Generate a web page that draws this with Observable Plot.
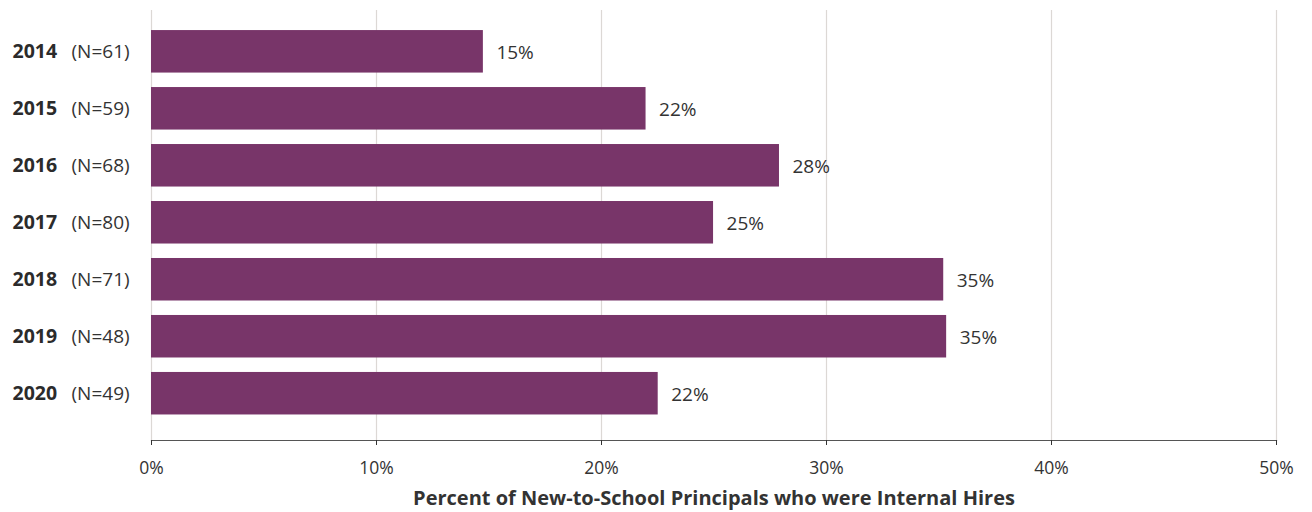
<!DOCTYPE html>
<html>
<head>
<meta charset="utf-8">
<script src="https://cdn.jsdelivr.net/npm/d3@7"></script>
<script src="https://cdn.jsdelivr.net/npm/@observablehq/plot@0.6"></script>
<style>
  html, body { margin: 0; padding: 0; background: #fff; }
  #chart { width: 1312px; height: 512px; }
</style>
</head>
<body>
<div id="chart"></div>
<script>
const years = ["2014", "2015", "2016", "2017", "2018", "2019", "2020"];
const sampleSizes = ["(N=61)", "(N=59)", "(N=68)", "(N=80)", "(N=71)", "(N=48)", "(N=49)"];
const values = [14.75, 21.98, 27.91, 24.98, 35.21, 35.34, 22.52];
const valueLabels = ["15%", "22%", "28%", "25%", "35%", "35%", "22%"];
const xTicks = [0, 10, 20, 30, 40, 50];
const xTitle = "Percent of New-to-School Principals who were Internal Hires";

const data = years.map((y, i) => ({year: y, n: sampleSizes[i], value: values[i], label: valueLabels[i]}));

const chart = Plot.plot({
  width: 1312,
  height: 512,
  marginLeft: 151,
  marginRight: 36,
  marginTop: 10,
  marginBottom: 72,
  style: {fontFamily: "'Open Sans', Lato, sans-serif", color: "#333", background: "#fff"},
  x: {domain: [0, 50]},
  y: {domain: years, paddingInner: 0.254, paddingOuter: 0.4, align: 0.44, round: false, axis: null},
  marks: [
    Plot.gridX(xTicks, {stroke: "#dcd8d5", strokeOpacity: 1, strokeWidth: 1.2}),
    Plot.barX(data, {x: "value", y: "year", fill: "#783569"}),
    Plot.text(data, {x: "value", y: "year", text: "label", dx: 13, dy: 1, textAnchor: "start", fontSize: 19, fill: "#333"}),
    Plot.text(data, {y: "year", text: "year", frameAnchor: "left", dx: -139, textAnchor: "start", fontSize: 19.5, fontWeight: "bold", fill: "#2b2b2b"}),
    Plot.text(data, {y: "year", text: "n", frameAnchor: "left", dx: -80, textAnchor: "start", fontSize: 19, fill: "#333"}),
    Plot.frame({anchor: "bottom", stroke: "#555", strokeWidth: 1.2}),
    Plot.axisX({ticks: xTicks, tickFormat: d => d + "%", tickSize: 5, tickPadding: 16, fontSize: 17.5, label: null, stroke: "#333"}),
    Plot.text([xTitle], {text: d => d, frameAnchor: "bottom", dy: 64, fontSize: 20, fontWeight: "bold", fill: "#333"})
  ]
});
document.getElementById("chart").appendChild(chart);
</script>
</body>
</html>
